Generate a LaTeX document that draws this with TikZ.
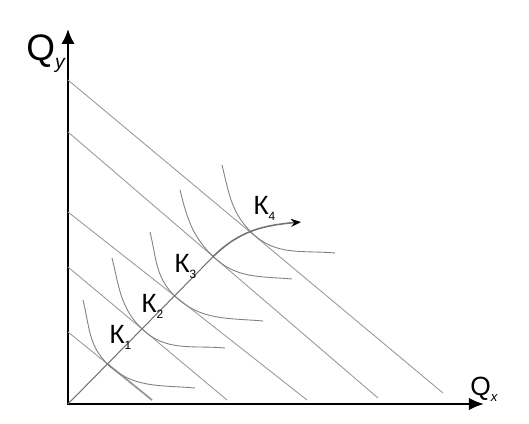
\documentclass[tikz,border=0pt]{standalone}
\usepackage{fontspec}
\setmainfont{Liberation Sans}
\usetikzlibrary{arrows.meta, positioning}

\newcommand{\ksub}[1]{\raisebox{-3pt}{\fontsize{6.8}{7}\selectfont #1}}

\begin{document}
\begin{tikzpicture}[
      axis/.style={line width=1.4pt, line join=miter,
                   {Latex[length=0.3cm, width=0.27cm]}-{Latex[length=0.3cm, width=0.25cm]}},
      budget/.style={black!40, line width=0.5pt},
      iso/.style={black!50, line width=0.5pt},
      expand/.style={black!55, line width=0.6pt},
      klab/.style={anchor=base west, inner sep=0pt, font=\fontsize{15}{16}\selectfont},
      qlab/.style={anchor=base west, inner sep=0pt}
    ]
    \useasboundingbox (-1.36,-0.4) rectangle (9.22,8.08);
    % axes
    \coordinate (O) at (0,0);
    \coordinate (ytip) at (0,7.5);
    \coordinate (xtip) at (8.32,0);
    \draw[axis] (ytip) -- (O) -- (xtip);
    \node[qlab, font=\fontsize{21}{21}\selectfont] (qy) at (-0.84,6.86)
      {Q\raisebox{-4pt}{\fontsize{11}{11}\selectfont\itshape y}};
    \node[qlab, font=\fontsize{15}{16}\selectfont] (qx) at (8.04,0.16)
      {Q\raisebox{-3pt}{\fontsize{7.5}{8}\selectfont\itshape x}};
    % budget lines
    \foreach \ya/\xb/\yb [count=\i] in {6.48/7.5/0.22, 5.44/6.2/0.12, 3.84/4.78/0.08,
                                         2.74/3.18/0.08, 1.44/1.68/0.08} {
      \coordinate (b\i) at (0,\ya);
      \coordinate (c\i) at (\xb,\yb);
      \draw[budget] (b\i) -- (c\i);
    }
    % expansion path points
    \coordinate (ray) at (4,4.06);
    \coordinate (P1) at (intersection of O--ray and b5--c5);
    \coordinate (P2) at (intersection of O--ray and b4--c4);
    \coordinate (P3) at (intersection of O--ray and b3--c3);
    \coordinate (P4) at (intersection of O--ray and b2--c2);
    \coordinate (P5) at (3.68,3.42);
    \coordinate (pend) at (4.66,3.64);
    \draw[budget, line width=1pt] (P1) -- (c5);
    % isoquants
    \draw[iso] (0.30,2.08) to[out=-76,in=136] (P1) to[out=-44,in=175] (2.54,0.32);
    \draw[iso] (0.88,2.92) to[out=-76,in=136] (P2) to[out=-44,in=175] (3.14,1.12);
    \draw[iso] (1.64,3.44) to[out=-76,in=136] (P3) to[out=-44,in=175] (3.90,1.66);
    \draw[iso] (2.24,4.28) to[out=-76,in=136] (P4) to[out=-44,in=175] (4.48,2.50);
    \draw[iso] (3.08,4.78) to[out=-76,in=136] (P5) to[out=-44,in=175] (5.34,3.02);
    % expansion path
    \draw[expand] (O) -- (P4);
    \draw[expand, line width=0.9pt, -{Stealth[length=0.2cm, width=0.16cm, color=black]}]
      (P4) to[out=45,in=185] (pend);
    \node[klab] (k1) at (0.82,1.2) {К\ksub{1}};
    \node[klab] (k2) at (1.46,1.82) {К\ksub{2}};
    \node[klab] (k3) at (2.12,2.62) {К\ksub{3}};
    \node[klab] (k4) at (3.7,3.78) {К\ksub{4}};
  \end{tikzpicture}
\end{document}
